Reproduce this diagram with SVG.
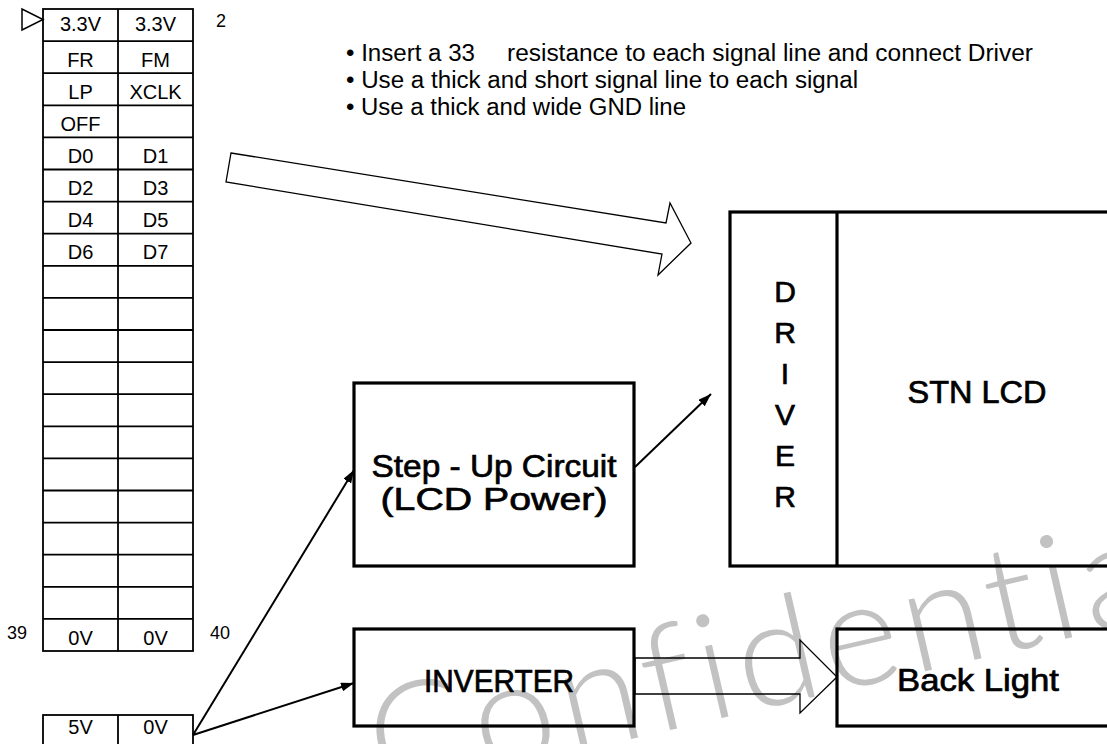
<svg xmlns="http://www.w3.org/2000/svg" width="1107" height="744" viewBox="0 0 1107 744">
<defs>
<style>
.t{font-family:"Liberation Sans",Arial,sans-serif;fill:#000}
.cell{font-size:20px;text-anchor:middle}
.num{font-size:18px}
.bul{font-size:23px}
.big{text-anchor:middle;stroke:#000;stroke-width:0.7}
.tl{fill:none;stroke:#000;stroke-width:1.8}
.box{fill:none;stroke:#000;stroke-width:3.2}
.hollow{fill:none;stroke:#000;stroke-width:1.3;stroke-linejoin:miter}
.con{fill:none;stroke:#000;stroke-width:2;marker-end:url(#ah)}
.wm{font-family:Lato,"DejaVu Sans",sans-serif;font-weight:300;font-size:148px;fill:#c2c2c2;letter-spacing:6px}
</style>
<marker id="ah" markerUnits="userSpaceOnUse" markerWidth="14" markerHeight="10" refX="13" refY="4.5" orient="auto" viewBox="0 0 14 10">
<path d="M0,0 L13,4.5 L0,9 z" fill="#000"/>
</marker>
</defs>
<rect x="0" y="0" width="1107" height="744" fill="#fff"/>

<g id="watermark">
<text class="wm" x="-372" y="0" transform="translate(744,713) rotate(-13)">Confidential</text>
</g>

<g id="notes" class="t bul">
<text x="346" y="61" textLength="129" lengthAdjust="spacingAndGlyphs">• Insert a 33</text>
<text x="507" y="61" textLength="526" lengthAdjust="spacingAndGlyphs">resistance to each signal line and connect Driver</text>
<text x="346" y="88" textLength="512" lengthAdjust="spacingAndGlyphs">• Use a thick and short signal line to each signal</text>
<text x="346" y="115" textLength="340" lengthAdjust="spacingAndGlyphs">• Use a thick and wide GND line</text>
</g>

<g id="connector40">
<polygon class="tl" points="22,9 22,30 43,19.5" style="stroke-width:1.5"/>
<rect class="tl" x="43" y="9" width="150" height="642"/>
<line class="tl" x1="118" y1="9" x2="118" y2="651"/>
<path class="tl" d="M43,41.1H193 M43,73.2H193 M43,105.3H193 M43,137.4H193 M43,169.5H193 M43,201.6H193 M43,233.7H193 M43,265.8H193 M43,297.9H193 M43,330H193 M43,362.1H193 M43,394.2H193 M43,426.3H193 M43,458.4H193 M43,490.5H193 M43,522.6H193 M43,554.7H193 M43,586.8H193 M43,618.9H193"/>
<g class="t cell">
<text x="80.5" y="31">3.3V</text><text x="155.5" y="31">3.3V</text>
<text x="80.5" y="66.5">FR</text><text x="155.5" y="66.5">FM</text>
<text x="80.5" y="98.6">LP</text><text x="155.5" y="98.6">XCLK</text>
<text x="80.5" y="130.7">OFF</text>
<text x="80.5" y="162.8">D0</text><text x="155.5" y="162.8">D1</text>
<text x="80.5" y="194.9">D2</text><text x="155.5" y="194.9">D3</text>
<text x="80.5" y="227">D4</text><text x="155.5" y="227">D5</text>
<text x="80.5" y="259.1">D6</text><text x="155.5" y="259.1">D7</text>
<text x="80.5" y="644.5">0V</text><text x="155.5" y="644.5">0V</text>
</g>
<g class="t num">
<text x="216" y="26.5">2</text>
<text x="7" y="638.5">39</text>
<text x="210" y="638.5">40</text>
</g>
</g>

<g id="power-connector">
<rect class="tl" x="43" y="715" width="150" height="40"/>
<line class="tl" x1="118" y1="715" x2="118" y2="755"/>
<g class="t cell">
<text x="80.5" y="734">5V</text><text x="155.5" y="734">0V</text>
</g>
</g>

<g id="lcd">
<rect class="box" x="730" y="212" width="400" height="354"/>
<line class="box" x1="837" y1="212" x2="837" y2="566"/>
<g class="t big" style="font-size:30px">
<text x="785" y="302">D</text>
<text x="785" y="343">R</text>
<text x="785" y="384">I</text>
<text x="785" y="425">V</text>
<text x="785" y="466">E</text>
<text x="785" y="507">R</text>
</g>
<text class="t big" x="977" y="403" style="font-size:32px" textLength="139" lengthAdjust="spacingAndGlyphs">STN LCD</text>
</g>

<g id="stepup">
<rect class="box" x="354" y="383" width="280" height="183"/>
<text class="t big" x="494" y="477" style="font-size:32px" textLength="245" lengthAdjust="spacingAndGlyphs">Step - Up Circuit</text>
<text class="t big" x="494" y="510" style="font-size:32px" textLength="227" lengthAdjust="spacingAndGlyphs">(LCD Power)</text>
</g>

<g id="inverter">
<rect class="box" x="354" y="629" width="280" height="97"/>
<text class="t big" x="499" y="691.5" style="font-size:31px" textLength="150" lengthAdjust="spacingAndGlyphs">INVERTER</text>
</g>

<g id="backlight">
<rect class="box" x="837" y="629" width="300" height="97"/>
<text class="t big" x="978" y="691" style="font-size:31px" textLength="162" lengthAdjust="spacingAndGlyphs">Back Light</text>
</g>

<g id="connectors">
<polygon class="hollow" points="231,153 666,223 670,203 691,243 658,275 662,254 226,182"/>
<polygon class="hollow" points="635,658 800,658 800,640 837,677 800,713 800,694 635,694"/>
<line class="con" x1="193" y1="735" x2="354" y2="470"/>
<line class="con" x1="193" y1="735" x2="354" y2="683"/>
<line class="con" x1="635" y1="467" x2="711" y2="394"/>
</g>
</svg>
